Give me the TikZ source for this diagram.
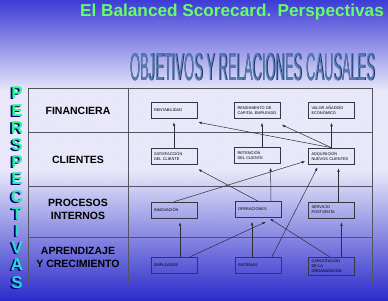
\documentclass[tikz,border=0pt]{standalone}
\usepackage{fontspec}
\usepackage{graphicx}
\setmainfont{Liberation Sans}
\usetikzlibrary{arrows.meta}
\definecolor{bgtop}{RGB}{60,60,214}
\definecolor{bglight}{RGB}{232,232,250}
\definecolor{bgbot}{RGB}{44,44,204}
\definecolor{titlegreen}{RGB}{100,255,100}
\definecolor{subblue}{RGB}{85,122,175}
\definecolor{subdark}{RGB}{30,55,110}
\definecolor{gridc}{RGB}{85,85,95}
\definecolor{boxc}{RGB}{55,55,65}
\definecolor{linkc}{RGB}{45,45,55}
\definecolor{navyc}{RGB}{0,0,120}
\definecolor{lgreen}{RGB}{40,250,130}
\definecolor{lcyan}{RGB}{40,215,215}
\definecolor{dotc}{RGB}{150,150,165}
\begin{document}
\begin{tikzpicture}[x=1pt,y=-1pt,
  obj/.style={draw=boxc, line width=0.6pt, minimum width=46pt, minimum height=16pt,
    text width=40pt, inner xsep=3pt, inner ysep=1pt, align=left,
    font=\fontsize{3.9}{4.8}\selectfont},
  rowlbl/.style={font=\bfseries\fontsize{10.5}{13}\selectfont, align=center, inner sep=0pt},
  link/.style={draw=linkc, line width=0.5pt, -{Latex[length=3.5pt,width=2.6pt]}},
  vlink/.style={link, shorten >=4pt},
  tline/.style={draw=gridc, line width=0.8pt},
  letter/.style={font=\bfseries\fontsize{17}{17}\selectfont, inner sep=0pt}]

\useasboundingbox (0,0) rectangle (388,300);
% background
\shade[top color=bgtop, bottom color=bglight] (0,0) rectangle (388,91);
\fill[bglight] (0,90) rectangle (388,171);
\shade[top color=bglight, bottom color=bgbot] (0,170) rectangle (388,300);

% dot grid in table
\foreach \i in {0,...,33} {
  \foreach \j in {0,...,18} {
    \fill[dotc, opacity=0.7] (33+10*\i, 93+10*\j) circle (0.4);
  }
}

% titles
\node[anchor=base, inner sep=0pt, text=titlegreen,
  font=\bfseries\fontsize{17.2}{20}\selectfont] (title) at (232,16.7)
  {El Balanced Scorecard. Perspectivas};
\node[anchor=base west, inner sep=0pt, text=subdark] (sub0) at (130.7,80.6)
  {\resizebox{245pt}{27pt}{OBJETIVOS Y RELACIONES CAUSALES}};
\node[anchor=base west, inner sep=0pt, text=subblue] (sub) at (130,80)
  {\resizebox{245pt}{27pt}{OBJETIVOS Y RELACIONES CAUSALES}};

% vertical word
\foreach \ch [count=\k from 0] in {P,E,R,S,P,E,C,T,I,V,A,S} {
  \pgfmathsetmacro\yy{93+17.2*\k}
  \pgfmathtruncatemacro\mix{100-9*\k}
  \node[letter, text=navyc] (la\k) at (15.2,\yy+1) {\ch};
  \node[letter, text=lgreen!\mix!lcyan] (l\k) at (17,\yy) {\ch};
}

% table
\draw[tline] (28,88) rectangle (372,283);
\draw[tline] (128,88) -- (128,283);
\foreach \yy in {132,186,237} { \draw[tline] (28,\yy) -- (372,\yy); }

% row labels
\node[rowlbl] (fin)  at (78,111) {FINANCIERA};
\node[rowlbl] (cli)  at (78,160) {CLIENTES};
\node[rowlbl] (proc) at (78,209) {PROCESOS\\INTERNOS};
\node[rowlbl] (apr)  at (78,257) {APRENDIZAJE\\Y CRECIMIENTO};

% objective boxes
\node[obj] (rent)  at (174,110)   {RENTABILIDAD};
\node[obj] (rend)  at (257.5,110.5) {RENDIMIENTO DE\\CAPITAL EMPLEADO};
\node[obj] (valor) at (331.5,110.5) {VALOR AÑADIDO\\ECONÓMICO};
\node[obj] (sat)   at (174,156)   {SATISFACCIÓN\\DEL CLIENTE};
\node[obj] (ret)   at (257.5,155.5) {RETENCIÓN\\DEL CLIENTE};
\node[obj] (adq)   at (331.5,156) {ADQUISICIÓN\\NUEVOS CLIENTES};
\node[obj] (inno)  at (174,210)   {INNOVACIÓN};
\node[obj] (oper)  at (258,209.5) {OPERACIONES};
\node[obj] (serv)  at (331.5,210) {SERVICIO\\POSTVENTA};
\node[obj] (emp)   at (174,265)   {EMPLEADOS};
\node[obj] (sist)  at (258,265)   {SISTEMAS};
\node[obj, minimum height=18pt] (cap) at (331.5,266) {CAPACITACIÓN\\DE LA\\ORGANIZACIÓN};

% causal links
\draw[vlink] (sat.north) -- (rent.south);
\draw[link] (adq.north) -- ([shift={(1pt,-4pt)}]rent.south east);
\draw[link] (adq.north) -- ([shift={(1pt,-6pt)}]rend.south east);
\draw[vlink] (adq.north) -- (valor.south);
\draw[vlink] ([xshift=4.5pt]ret.north) -- ([xshift=4.5pt]rend.south);
\draw[link] (oper.north) -- ([shift={(1pt,-5pt)}]sat.south east);
\draw[vlink] ([xshift=13pt]oper.north) -- ([xshift=13pt]ret.south);
\draw[link] (inno.north) -- ([shift={(-3pt,3pt)}]adq.south west);
\draw[link] ([xshift=14pt]sist.north) -- ([shift={(-14pt,-3pt)}]adq.south);
\draw[vlink] ([xshift=7pt]serv.north) -- ([xshift=7pt]adq.south);
\draw[vlink] ([xshift=6pt]emp.north) -- ([xshift=6pt]inno.south);
\draw[link] ([xshift=-7pt]emp.north east) -- ([shift={(8pt,-4pt)}]oper.south);
\draw[vlink] ([xshift=-6pt]sist.north) -- ([xshift=-6pt]oper.south);
\draw[link] ([xshift=-2pt]cap.north) -- ([shift={(12pt,-1pt)}]oper.south);
\draw[vlink] ([xshift=10pt]cap.north) -- ([xshift=10pt]serv.south);
\end{tikzpicture}
\end{document}
